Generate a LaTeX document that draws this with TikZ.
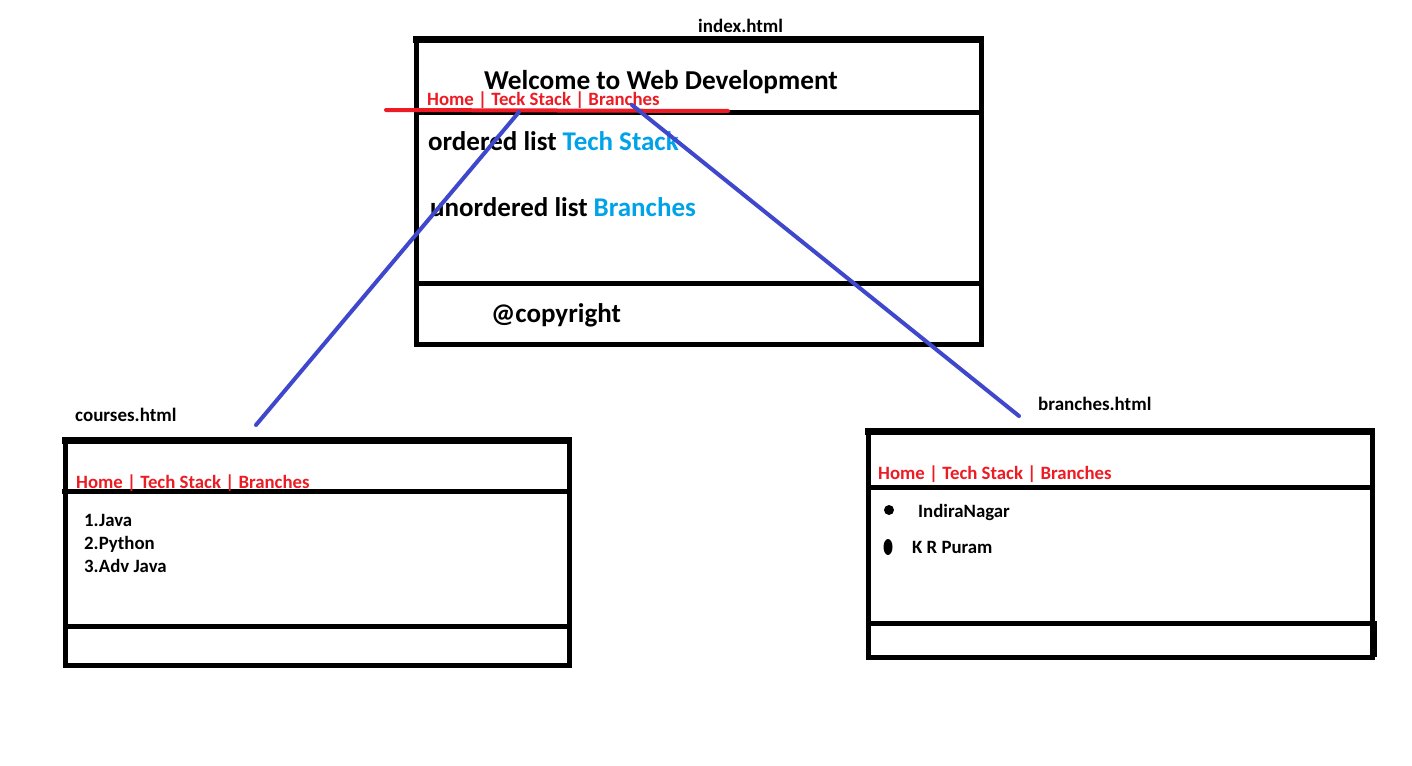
\documentclass[tikz,border=0pt]{standalone}
\usepackage{fontspec}
\setmainfont{Carlito}
\definecolor{navred}{RGB}{237,28,36}
\definecolor{linkblue}{RGB}{0,162,232}
\definecolor{wireblue}{RGB}{63,72,204}
\begin{document}
\begin{tikzpicture}[x=1pt,y=-1pt,
  frame/.style={line width=5pt},
  heavy/.style={line width=7pt},
  lbl/.style={anchor=base west,inner sep=0pt,font=\bfseries\fontsize{19}{22}\selectfont},
  big/.style={anchor=base west,inner sep=0pt,font=\bfseries\fontsize{27.3}{31}\selectfont},
  mid/.style={anchor=base west,inner sep=0pt,font=\bfseries\fontsize{27}{31}\selectfont},
  nav/.style={anchor=base west,inner sep=0pt,text=navred,font=\bfseries\fontsize{18.8}{22}\selectfont},
  item/.style={anchor=base west,inner sep=0pt,font=\bfseries\fontsize{18.8}{22}\selectfont},
  wire/.style={wireblue,line width=4pt,line cap=round},
  redrule/.style={navred,line width=4pt,line cap=round}]
\useasboundingbox[fill=white] (0,0) rectangle (1412,765);

% ---------- index.html ----------
\draw[frame] (416,40) rectangle (981,344);
\draw[heavy] (413,40) -- (984,40);
\draw[frame] (416,113) -- (981,113);
\draw[frame] (416,283) -- (984,283);
\node[lbl] (ititle) at (698,33) {index.html};
\node[big] (welcome) at (484,90) {Welcome to Web Development};
\node[nav] (inav) at (427,106) {Home | Teck Stack | Branches};
\draw[redrule] (386,110) -- (728,111);
\node[mid] (olist) at (428,150) {ordered list \textcolor{linkblue}{Tech Stack}};
\node[mid] (ulist) at (430,216) {unordered list \textcolor{linkblue}{Branches}};
\node[mid] (copy) at (491,322) {@copyright};

% ---------- courses.html ----------
\draw[frame] (65,440) rectangle (569,665);
\draw[heavy] (62,440) -- (572,440);
\draw[frame] (62,491) -- (569,491);
\draw[frame] (65,626) -- (569,626);
\node[lbl] (ctitle) at (75,421) {courses.html};
\node[nav] (cnav) at (76,488) {Home | Tech Stack | Branches};
\node[item] (c1) at (84,526) {1.Java};
\node[item] (c2) at (84,549) {2.Python};
\node[item] (c3) at (84,572) {3.Adv Java};

% ---------- branches.html ----------
\draw[frame] (868,431) rectangle (1372,657);
\draw[heavy] (865,431) -- (1375,431);
\draw[frame] (868,487) -- (1372,487);
\draw[frame] (868,623) -- (1376,623);
\draw[frame] (1374,621) -- (1374,657);
\node[lbl] (btitle) at (1038,410) {branches.html};
\node[nav] (bnav) at (878,479) {Home | Tech Stack | Branches};
\fill (889,510) circle [radius=5];
\fill (888,547) ellipse [x radius=4.5, y radius=8];
\node[item] (b1) at (918,517) {IndiraNagar};
\node[item] (b2) at (912,553) {K R Puram};

% ---------- links between pages ----------
\coordinate (techlink) at (519,112);
\coordinate (branchlink) at (632,105);
\coordinate (coursesend) at (256,425);
\coordinate (branchesend) at (1019,416);
\draw[wire] (techlink) -- (coursesend);
\draw[wire] (branchlink) -- (branchesend);
\end{tikzpicture}
\end{document}
